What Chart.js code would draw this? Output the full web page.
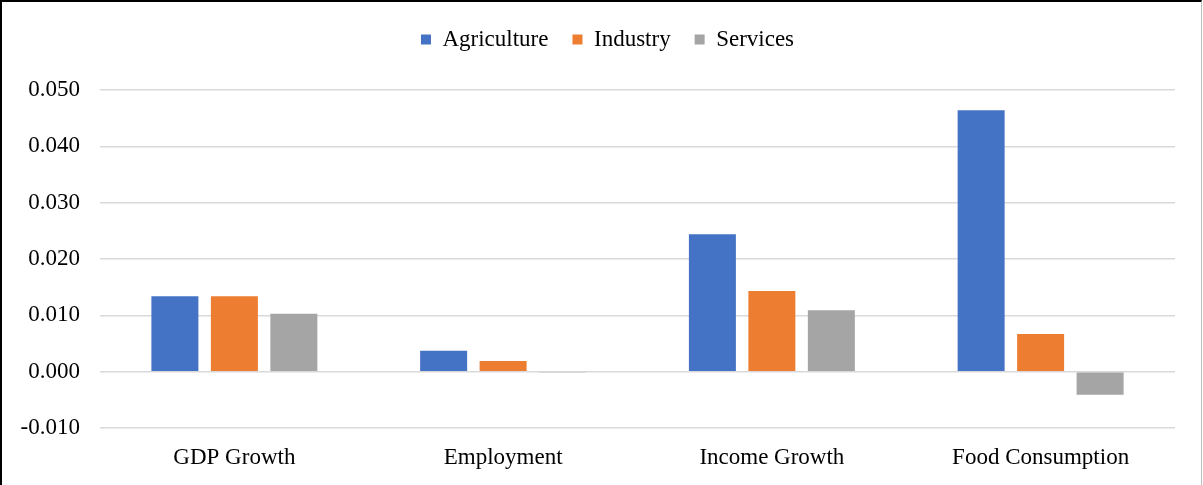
<!DOCTYPE html>
<html>
<head>
<meta charset="utf-8">
<script src="https://cdn.jsdelivr.net/npm/chart.js@4"></script>
<style>
  html, body { margin: 0; padding: 0; background: #fff; }
  #wrap { position: relative; width: 1203px; height: 485px; }
  #c { position: absolute; left: 0; top: 0; }
  #frame { position: absolute; left: 0; top: 0; width: 1202px; height: 485px; box-sizing: border-box;
           border-left: 2px solid #000; border-top: 2px solid #000; border-right: 1px solid #bfbfbf; pointer-events: none; }
</style>
</head>
<body>
<div id="wrap">
  <canvas id="c" width="1203" height="485"></canvas>
  <div id="frame"></div>
</div>
<script>
const categories = ["GDP Growth", "Employment", "Income Growth", "Food Consumption"];
const agriculture = [0.0134, 0.0037, 0.0244, 0.0464];
const industry = [0.0134, 0.0019, 0.0143, 0.0067];
const services = [0.0103, -0.0002, 0.0109, -0.0041];
const seriesNames = ["Agriculture", "Industry", "Services"];
const yMin = -0.01, yMax = 0.05, yStep = 0.01;

const FONT = "'Liberation Serif', 'Times New Roman', serif";

const legendSpacing = {
  id: 'legendSpacing',
  beforeInit(chart) {
    const orig = chart.legend.fit;
    chart.legend.fit = function () {
      orig.bind(chart.legend)();
      this.height += 29;
    };
  },
  afterLayout(chart) {
    chart.legend.left += 20;
    chart.legend.right += 20;
  }
};

new Chart(document.getElementById('c'), {
  type: 'bar',
  data: {
    labels: categories,
    datasets: [
      { label: seriesNames[0], data: agriculture, backgroundColor: '#4472C4' },
      { label: seriesNames[1], data: industry, backgroundColor: '#ED7D31' },
      { label: seriesNames[2], data: services, backgroundColor: '#A5A5A5' }
    ]
  },
  plugins: [legendSpacing],
  options: {
    responsive: false,
    animation: false,
    devicePixelRatio: 1,
    layout: { padding: { left: 0, right: 28, top: 4, bottom: 0 } },
    datasets: { bar: { categoryPercentage: 0.664, barPercentage: 0.79 } },
    plugins: {
      legend: {
        position: 'top',
        labels: {
          boxWidth: 10, boxHeight: 10, padding: 24,
          color: '#000',
          font: { family: FONT, size: 23 }
        }
      },
      tooltip: { enabled: false }
    },
    scales: {
      x: {
        grid: { display: false, drawTicks: false },
        border: { display: false },
        ticks: { color: '#000', padding: 16, font: { family: FONT, size: 23 } },
        afterFit(scale) { scale.height = 57; }
      },
      y: {
        min: yMin, max: yMax,
        grid: { color: '#d9d9d9', lineWidth: 1.5, drawTicks: false },
        border: { display: false },
        ticks: {
          stepSize: yStep, color: '#000', padding: 20,
          font: { family: FONT, size: 23 },
          callback: v => v.toFixed(3)
        },
        afterFit(scale) { scale.width = 100; }
      }
    }
  }
});
</script>
</body>
</html>
